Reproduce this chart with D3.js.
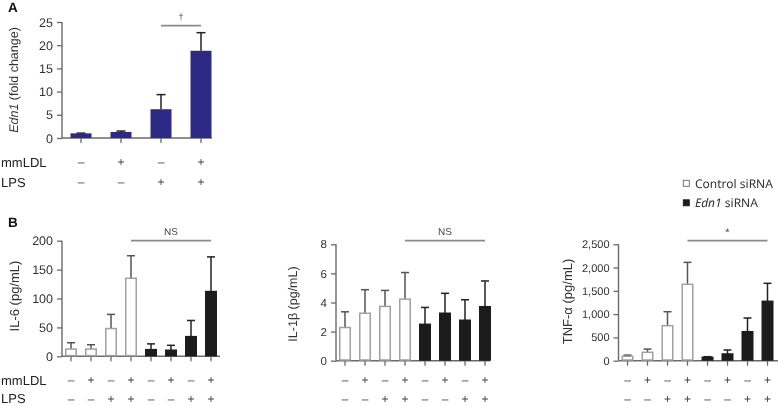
<!DOCTYPE html>
<html>
<head>
<meta charset="utf-8">
<script src="https://cdn.jsdelivr.net/npm/d3@7"></script>
<style>
  html, body { margin: 0; padding: 0; background: #fff; }
  svg { display: block; font-family: "Liberation Sans", Arial, sans-serif; will-change: transform; }
  text { text-rendering: geometricPrecision; }
</style>
</head>
<body>
<svg id="chart" width="779" height="406"></svg>
<script>
// ---------------- DATA ----------------
const conditionsA = ["c1", "c2", "c3", "c4"];
const mmLDL_A = ["–", "+", "–", "+"];
const LPS_A   = ["–", "–", "+", "+"];
const edn1Mean = [1.0, 1.3, 6.2, 18.8];
const edn1Err  = [0.05, 0.2, 3.15, 3.9];
const ticksA = [0, 5, 10, 15, 20, 25];

const conditionsB = ["c1", "c2", "c3", "c4", "c5", "c6", "c7", "c8"];
const groupB = ["Control", "Control", "Control", "Control", "Edn1", "Edn1", "Edn1", "Edn1"];
const mmLDL_B = ["–", "+", "–", "+", "–", "+", "–", "+"];
const LPS_B   = ["–", "–", "+", "+", "–", "–", "+", "+"];

const il6Mean = [12.5, 12.5, 48, 135, 11.5, 10.5, 34, 112];
const il6Err  = [11, 7.5, 24.5, 39, 10, 8.5, 28, 60];
const ticksIL6 = [0, 50, 100, 150, 200];

const il1bMean = [2.28, 3.26, 3.73, 4.23, 2.5, 3.26, 2.78, 3.71];
const il1bErr  = [1.08, 1.62, 1.1, 1.83, 1.16, 1.37, 1.41, 1.77];
const ticksIL1b = [0, 2, 4, 6, 8];

const tnfMean = [95, 180, 752, 1640, 73, 144, 623, 1275];
const tnfErr  = [25, 70, 300, 472, 13, 86, 294, 387];
const ticksTNF = [0, 500, 1000, 1500, 2000, 2500];

const legendLabels = ["Control siRNA", "Edn1 siRNA"];

// ---------------- DRAW ----------------
const svg = d3.select("#chart");
const axisColor = "#6a6a6a";
const textColor = "#333";

function panel(cfg) {
  const g = svg.append("g");
  const x = d3.scaleBand().domain(cfg.cats).range(cfg.xRange)
    .paddingInner(cfg.pi).paddingOuter(cfg.pi / 2);
  const y = d3.scaleLinear().domain([0, d3.max(cfg.ticks)]).range(cfg.yRange);
  const ax = cfg.xRange[0] + 1;
  const bw = x.bandwidth();

  // y axis
  const yAxis = d3.axisLeft(y).tickValues(cfg.ticks).tickSize(5).tickPadding(4)
    .tickFormat(cfg.fmt || d3.format("d"));
  const ya = g.append("g").attr("transform", `translate(${ax},0)`).call(yAxis);
  ya.select(".domain").remove();
  ya.append("line").attr("x1", 0).attr("x2", 0).attr("y1", y.range()[1]).attr("y2", y.range()[0])
    .attr("stroke", axisColor).attr("stroke-width", 1.4);
  ya.selectAll(".tick line").attr("stroke", axisColor).attr("stroke-width", 1.3);
  ya.selectAll(".tick text").attr("fill", textColor).style("font-size", cfg.tickFont + "px");

  // x axis
  g.append("line").attr("x1", ax).attr("x2", cfg.xEnd)
    .attr("y1", y(0)).attr("y2", y(0)).attr("stroke", axisColor).attr("stroke-width", 1.4);
  g.selectAll(".xt").data(cfg.cats).join("line")
    .attr("x1", d => x(d) + bw / 2).attr("x2", d => x(d) + bw / 2)
    .attr("y1", y(0)).attr("y2", y(0) + 5)
    .attr("stroke", axisColor).attr("stroke-width", 1.3);

  // error bars
  const eb = g.append("g");
  cfg.cats.forEach((c, i) => {
    const cx = x(c) + bw / 2;
    const top = cfg.mean[i] + cfg.err[i];
    const col = cfg.errColor(i);
    eb.append("line").attr("x1", cx).attr("x2", cx).attr("y1", y(cfg.mean[i])).attr("y2", y(top))
      .attr("stroke", col).attr("stroke-width", 1.5);
    eb.append("line").attr("x1", cx - cfg.cap).attr("x2", cx + cfg.cap).attr("y1", y(top)).attr("y2", y(top))
      .attr("stroke", col).attr("stroke-width", 1.5);
  });

  // bars
  g.selectAll(".bar").data(cfg.cats).join("rect")
    .attr("x", d => x(d) + (cfg.stroke ? 0.75 : 0))
    .attr("width", bw - (cfg.stroke ? 1.5 : 0))
    .attr("y", (d, i) => y(cfg.mean[i]))
    .attr("height", (d, i) => y(0) - y(cfg.mean[i]) - (cfg.stroke ? 0.7 : 0))
    .attr("fill", (d, i) => cfg.fill(i))
    .attr("stroke", (d, i) => cfg.stroke ? cfg.stroke(i) : "none")
    .attr("stroke-width", 1.5);

  // y title
  const t = g.append("text")
    .attr("transform", `translate(${cfg.titleX},${cfg.titleY}) rotate(-90)`)
    .attr("text-anchor", "middle").attr("dy", "0.35em")
    .attr("fill", textColor).style("font-size", cfg.titleFont + "px");
  cfg.title.forEach(p => t.append("tspan").text(p.t).style("font-style", p.i ? "italic" : "normal"));

  // condition rows
  cfg.rows.forEach(r => {
    g.selectAll(null).data(cfg.cats).join("text")
      .attr("x", d => x(d) + bw / 2).attr("y", r.y).attr("dy", "0.35em")
      .attr("text-anchor", "middle").attr("fill", "#444").style("font-size", "12px")
      .text((d, i) => r.vals[i]);
    if (r.label) {
      g.append("text").attr("x", 1).attr("y", r.y).attr("dy", "0.35em")
        .attr("fill", "#222").style("font-size", "13px").text(r.label);
    }
  });

  // significance
  const s = cfg.sig;
  const sx1 = x(cfg.cats[s.from]) + bw / 2, sx2 = x(cfg.cats[s.to]) + bw / 2;
  g.append("line").attr("x1", sx1).attr("x2", sx2).attr("y1", s.y).attr("y2", s.y)
    .attr("stroke", "#8a8a8a").attr("stroke-width", 1.8);
  g.append("text").attr("x", (sx1 + sx2) / 2).attr("y", s.y - 9).attr("dy", "0.35em")
    .attr("text-anchor", "middle").attr("fill", "#444").style("font-size", s.font + "px").text(s.label);
  return { x, y };
}

// Panel A
panel({
  cats: conditionsA, mean: edn1Mean, err: edn1Err, ticks: ticksA,
  xRange: [61, 221], pi: 0.475, xEnd: 212, yRange: [138, 22],
  tickFont: 12.5, cap: 4.5,
  fill: () => "#2d2a86", errColor: () => "#222",
  title: [{ t: "Edn1", i: true }, { t: " (fold change)" }], titleX: 14, titleY: 80, titleFont: 12.5,
  rows: [{ y: 162, vals: mmLDL_A, label: "mmLDL" }, { y: 182, vals: LPS_A, label: "LPS" }],
  sig: { from: 2, to: 3, y: 25.7, label: "†", font: 9 }
});

const openFill = i => groupB[i] === "Control" ? "#ffffff" : "#1c1c1c";
const openStroke = i => groupB[i] === "Control" ? "#a0a0a0" : "#1c1c1c";
const errCol = i => groupB[i] === "Control" ? "#555" : "#222";

// IL-6
panel({
  cats: conditionsB, mean: il6Mean, err: il6Err, ticks: ticksIL6,
  xRange: [61, 221], pi: 0.4, xEnd: 220, yRange: [356.3, 240.7],
  tickFont: 12.5, cap: 4,
  fill: openFill, stroke: openStroke, errColor: errCol,
  title: [{ t: "IL-6 (pg/mL)" }], titleX: 14, titleY: 296, titleFont: 13,
  rows: [{ y: 380, vals: mmLDL_B, label: "mmLDL" }, { y: 398.5, vals: LPS_B, label: "LPS" }],
  sig: { from: 3, to: 7, y: 240.7, label: "NS", font: 10 }
});

// IL-1β
panel({
  cats: conditionsB, mean: il1bMean, err: il1bErr, ticks: ticksIL1b,
  xRange: [335, 495], pi: 0.4, xEnd: 490, yRange: [360.7, 244.3],
  tickFont: 11.5, cap: 4,
  fill: openFill, stroke: openStroke, errColor: errCol,
  title: [{ t: "IL-1β (pg/mL)" }], titleX: 293, titleY: 304, titleFont: 12.5,
  rows: [{ y: 380, vals: mmLDL_B }, { y: 398.5, vals: LPS_B }],
  sig: { from: 3, to: 7, y: 240.7, label: "NS", font: 10 }
});

// TNF-α
panel({
  cats: conditionsB, mean: tnfMean, err: tnfErr, ticks: ticksTNF,
  xRange: [617.5, 777.5], pi: 0.4, xEnd: 778, yRange: [360.7, 244.3],
  tickFont: 11, cap: 4, fmt: d3.format(","),
  fill: openFill, stroke: openStroke, errColor: errCol,
  title: [{ t: "TNF-α (pg/mL)" }], titleX: 567, titleY: 301.5, titleFont: 13,
  rows: [{ y: 380, vals: mmLDL_B }, { y: 398.5, vals: LPS_B }],
  sig: { from: 3, to: 7, y: 240.7, label: "*", font: 11 }
});

// panel letters
svg.append("text").attr("x", 8).attr("y", 12).style("font-size", "13.5px").style("font-weight", "bold")
  .attr("fill", "#111").text("A");
svg.append("text").attr("x", 8).attr("y", 227).style("font-size", "13.5px").style("font-weight", "bold")
  .attr("fill", "#111").text("B");

// legend
const leg = svg.append("g").style("font-family", "'Noto Sans', sans-serif");
legendLabels.forEach((lab, i) => {
  const ly = 183.3 + i * 19.5;
  leg.append("rect").attr("x", 683.3).attr("y", ly - 3).attr("width", 6).attr("height", 6)
    .attr("fill", i === 0 ? "#fff" : "#1c1c1c").attr("stroke", i === 0 ? "#666" : "#1c1c1c").attr("stroke-width", 0.9);
  const t = leg.append("text").attr("x", 695).attr("y", ly).attr("dy", "0.35em")
    .attr("fill", "#333").style("font-size", "12px");
  if (i === 1) {
    t.append("tspan").text("Edn1").style("font-style", "italic");
    t.append("tspan").text(" siRNA");
  } else {
    t.text(lab);
  }
});
</script>
</body>
</html>
